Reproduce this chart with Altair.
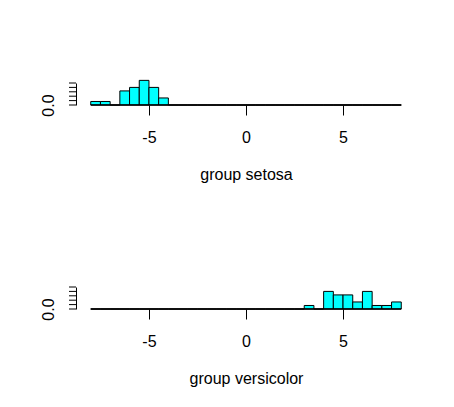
import altair as alt
import pandas as pd

# Histogram bins (left edges), bin width 0.5, from -8 to 8
bin_start = [-8.0, -7.5, -7.0, -6.5, -6.0, -5.5, -5.0, -4.5, -4.0, -3.5, -3.0, -2.5,
             -2.0, -1.5, -1.0, -0.5, 0.0, 0.5, 1.0, 1.5, 2.0, 2.5, 3.0, 3.5,
             4.0, 4.5, 5.0, 5.5, 6.0, 6.5, 7.0, 7.5]
bin_width = 0.5
n_per_group = 50

setosa_counts = [2, 2, 0, 8, 10, 14, 10, 4, 0, 0, 0, 0,
                 0, 0, 0, 0, 0, 0, 0, 0, 0, 0, 0, 0,
                 0, 0, 0, 0, 0, 0, 0, 0]
versicolor_counts = [0, 0, 0, 0, 0, 0, 0, 0, 0, 0, 0, 0,
                     0, 0, 0, 0, 0, 0, 0, 0, 0, 0, 2, 0,
                     10, 8, 8, 4, 10, 2, 2, 4]

x_ticks = [-5, 0, 5]
y_ticks = [0.0, 0.1, 0.2, 0.3, 0.4, 0.5]
x_range = [-8.76, 8.76]
y_range = [0.0, 0.5]
hist_range = [-8.0, 8.0]

FONT = "Liberation Sans"
W = 340
H = 22


def panel(name, counts):
    df = pd.DataFrame({
        "x0": bin_start,
        "x1": [b + bin_width for b in bin_start],
        "density": [c / (n_per_group * bin_width) for c in counts],
        "zero": [0.0] * len(bin_start),
    })
    xscale = alt.Scale(domain=x_range, nice=False, zero=False)
    yscale = alt.Scale(domain=y_range, nice=False, zero=False)
    xaxis = alt.Axis(
        values=x_ticks, labelExpr="toString(datum.value)", domain=False, grid=False,
        tickSize=10, tickColor="black", tickWidth=1,
        labelFont=FONT, labelFontSize=16, labelColor="black",
        labelBaseline="alphabetic", labelPadding=27.5,
        labelFlush=False, labelOverlap=False,
        title=f"group {name}", titleFont=FONT, titleFontSize=16,
        titleFontWeight="normal", titleColor="black",
        titleX=170, titleY=74.3, titleBaseline="alphabetic", titleAlign="center",
    )
    yaxis = alt.Axis(
        values=y_ticks, grid=False, domain=True, domainColor="black", domainWidth=1,
        ticks=False, tickSize=7,
        labelExpr="datum.value == 0 ? '0.0' : ''",
        labelFont=FONT, labelFontSize=16, labelColor="black",
        labelAngle=270, labelAlign="center", labelBaseline="alphabetic",
        labelPadding=22.5, labelOverlap=False, labelFlush=False,
        title=None,
    )
    bars = alt.Chart(df).mark_rect(
        fill="#00FFFF", stroke="black", strokeWidth=1, clip=False
    ).encode(
        x=alt.X("x0:Q", scale=xscale, axis=xaxis),
        x2="x1:Q",
        y=alt.Y("density:Q", scale=yscale, axis=yaxis),
        y2="zero:Q",
    )
    base = alt.Chart(pd.DataFrame({"a": [hist_range[0]], "b": [hist_range[1]]})).mark_rule(
        color="black", strokeWidth=1.3
    ).encode(
        x=alt.X("a:Q", scale=xscale),
        x2="b:Q",
        y=alt.Y(datum=0, scale=yscale),
    )
    yticks = alt.Chart(pd.DataFrame({"t": y_ticks})).mark_rule(
        color="black", strokeWidth=1
    ).encode(
        x=alt.value(-7),
        x2=alt.value(0),
        y=alt.Y("t:Q", scale=yscale),
    )
    return alt.layer(bars, base, yticks).properties(width=W, height=H)


chart = alt.vconcat(
    panel("setosa", setosa_counts),
    panel("versicolor", versicolor_counts),
    spacing=103,
).properties(
    background="white",
    padding={"left": 40, "top": 79, "right": 10, "bottom": 10},
).configure_view(stroke=None)

chart.save("out.html", embed_options={"renderer": "svg", "actions": False})
